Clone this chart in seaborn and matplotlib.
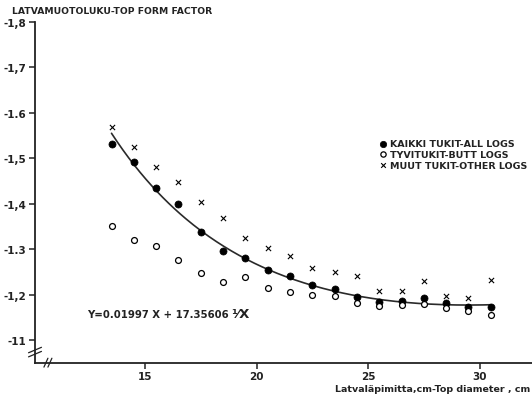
import numpy as np
import pandas as pd
import matplotlib
matplotlib.use("Agg")
import matplotlib.pyplot as plt
import seaborn as sns

# ---- data ----
diameter = [13.5, 14.5, 15.5, 16.5, 17.5, 18.5, 19.5, 20.5, 21.5, 22.5,
            23.5, 24.5, 25.5, 26.5, 27.5, 28.5, 29.5, 30.5]
all_logs = [1.531, 1.492, 1.435, 1.400, 1.338, 1.297, 1.280, 1.254, 1.241, 1.222,
            1.213, 1.195, 1.185, 1.186, 1.192, 1.181, 1.173, 1.173]
butt_logs = [1.352, 1.321, 1.308, 1.277, 1.249, 1.229, 1.239, 1.215, 1.206, 1.200,
             1.198, 1.182, 1.176, 1.178, 1.180, 1.171, 1.164, 1.156]
other_logs = [1.568, 1.525, 1.481, 1.447, 1.405, 1.370, 1.325, 1.303, 1.286, 1.259,
              1.250, 1.242, 1.209, 1.209, 1.230, 1.198, 1.192, 1.233]
# regression stated on the chart: Y = a*X + b/X
coef_a = 0.01997
coef_b = 17.35606
fit_range = [13.5, 30.5]

yticks = [1.1, 1.2, 1.3, 1.4, 1.5, 1.6, 1.7, 1.8]
ytick_labels = ["-11", "-1,2", "-1.3", "-1,4", "-1,5", "-1.6", "-1,7", "-1,8"]
xticks = [15, 20, 25, 30]
xtick_labels = ["15", "20", "25", "30"]
series_labels = ["KAIKKI TUKIT-ALL LOGS", "TYVITUKIT-BUTT LOGS", "MUUT TUKIT-OTHER LOGS"]

sns.set_theme(style="white")
plt.rcParams["font.family"] = ["DejaVu Sans"]

fig = plt.figure(figsize=(5.32, 4.02), dpi=100)
ax = fig.add_axes([35 / 532, 38 / 402, 1 - 35 / 532, (364 - 23) / 402])

df = pd.DataFrame({"d": diameter, "all": all_logs, "butt": butt_logs, "other": other_logs})

fit_x = np.linspace(fit_range[0], fit_range[1], 200)
fit_df = pd.DataFrame({"d": fit_x, "y": coef_a * fit_x + coef_b / fit_x})
sns.lineplot(data=fit_df, x="d", y="y", ax=ax, color="#2a2a2a", linewidth=1.2, zorder=2)

sns.scatterplot(data=df, x="d", y="all", ax=ax, marker="o", s=26, color="black",
                edgecolor="black", linewidth=0.5, zorder=3, label=series_labels[0])
sns.scatterplot(data=df, x="d", y="butt", ax=ax, marker="o", s=18, facecolor="white",
                edgecolor="black", linewidth=0.9, zorder=3, label=series_labels[1])
sns.scatterplot(data=df, x="d", y="other", ax=ax, marker="x", s=14, color="black",
                linewidth=0.8, zorder=3, label=series_labels[2])

ax.set_xlim(10.07, 32.35)
ax.set_ylim(1.05, 1.8)
ax.set_xticks(xticks)
ax.set_xticklabels(xtick_labels, fontsize=7.5, fontweight="bold")
ax.set_yticks(yticks)
ax.set_yticklabels(ytick_labels, fontsize=7.5, fontweight="bold")
ax.tick_params(axis="both", direction="out", length=4, width=1.1, color="#222222",
               labelcolor="#222222", pad=2, left=True, bottom=True)
ax.set_xlabel("")
ax.set_ylabel("")

for s in ["top", "right"]:
    ax.spines[s].set_visible(False)
for s in ["left", "bottom"]:
    ax.spines[s].set_linewidth(1.3)
    ax.spines[s].set_color("#222222")

# axis break marks
trans = ax.transAxes
for dy in (0.030, 0.042):
    ax.plot([-0.013, 0.013], [dy - 0.012, dy + 0.004], transform=trans,
            color="#222222", lw=0.9, clip_on=False)
for dx in (0.022, 0.030):
    ax.plot([dx - 0.004, dx + 0.004], [-0.012, 0.014], transform=trans,
            color="#222222", lw=0.9, clip_on=False)

leg = ax.legend(loc="upper left", bbox_to_anchor=(378 / 532, 1 - 140 / 402),
                bbox_transform=fig.transFigure, frameon=False, fontsize=6.8,
                handletextpad=0.3, labelspacing=0.2, handlelength=1.0,
                borderaxespad=0, borderpad=0, markerscale=0.9)
for t in leg.get_texts():
    t.set_fontweight("bold")
    t.set_color("#222222")

fig.text(12 / 532, 1 - 11 / 402, "LATVAMUOTOLUKU-TOP FORM FACTOR", fontsize=6.7,
         fontweight="bold", color="#222222", ha="left", va="center")
eq = fig.text(87 / 532, 1 - 315 / 402, "Y=0.01997 X + 17.35606", fontsize=7.3,
              fontweight="bold", color="#222222", ha="left", va="center")
ax.annotate("¹⁄X", xy=(1, 0.5), xycoords=eq,
            xytext=(2, 0), textcoords="offset points", fontsize=9.5,
            fontweight="bold", color="#222222", ha="left", va="center")
fig.text(530 / 532, 1 - 390 / 402, "Latvaläpimitta,cm-Top diameter , cm", fontsize=6.8,
         fontweight="bold", color="#222222", ha="right", va="center")

fig.savefig("out.png", dpi=100, facecolor="white")
